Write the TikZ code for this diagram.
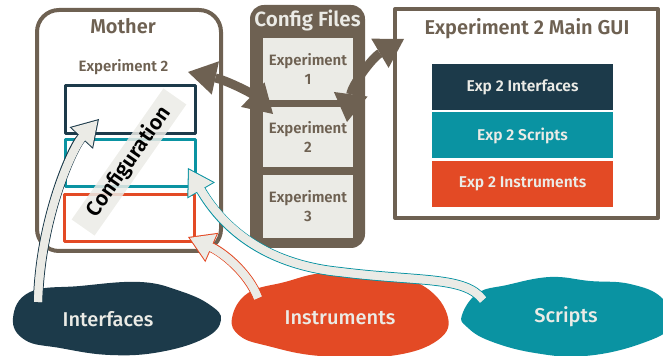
\documentclass[tikz,border=0pt]{standalone}
\usepackage{fontspec}
\setmainfont{Fira Sans}[BoldFont={Fira Sans SemiBold}]
\newfontfamily\medfont{Fira Sans Medium}
\usetikzlibrary{arrows.meta}
\definecolor{brn}{HTML}{6E6152}
\definecolor{ink}{HTML}{1C3A4A}
\definecolor{sea}{HTML}{0A93A2}
\definecolor{rust}{HTML}{E34A25}
\definecolor{paper}{HTML}{EBEBE6}
\tikzset{
  frame/.style={draw=brn, line width=2pt, inner sep=0pt},
  slot/.style={draw=#1, line width=1.5pt, minimum width=65pt, minimum height=23.5pt, inner sep=0pt},
  guirow/.style={fill=#1, text=paper, font=\bfseries\fontsize{7.8}{9}\selectfont, minimum width=90.5pt, minimum height=23pt, inner sep=0pt},
  cfgbox/.style={fill=paper, text=brn, align=center, font=\bfseries\fontsize{7.5}{9.5}\selectfont, minimum width=45pt, inner sep=0pt},
  title/.style={text=brn, font=\bfseries\fontsize{10}{12}\selectfont},
  blobtext/.style={text=paper, font=\medfont\fontsize{10}{12}\selectfont},
  swap arrow/.style={line width=4.5pt, brn, {Triangle[length=14pt,width=17pt,line width=0pt]}-{Triangle[length=14pt,width=17pt,line width=0pt]}},
}
% outlined light arrow: colour, path
\newcommand\fatarrow[2]{%
  \draw[line width=5pt, #1, -{Triangle[length=13pt,width=16pt,line width=0pt]}] #2;
  \draw[line width=4pt, paper, shorten >=1pt, -{Triangle[length=11.5pt,width=14.2pt,line width=0pt]}] #2;
  \draw[line width=4pt, paper, shorten >=11pt] #2;}
\begin{document}
\begin{tikzpicture}[x=0.5pt, y=-0.5pt, line join=round]
  \useasboundingbox (0,0) rectangle (663,356);
  % Mother
  \node[frame, rounded corners=11pt, minimum width=92pt, minimum height=120.5pt] (mother) at (129,130.5) {};
  \node[title] (mtitle) at (123,26) {Mother};
  \node[text=brn, font=\bfseries\fontsize{7.5}{9}\selectfont] (mexp) at (123.5,67) {Experiment 2};
  \node[slot=ink, minimum height=24pt] (mint) at (130.5,109.5) {};
  \node[slot=sea] (mscr) at (130.5,163) {};
  \node[slot=rust] (mins) at (129,218) {};
  % config files
  \node[fill=brn, rounded corners=7pt, minimum width=57.5pt, minimum height=121.5pt, inner sep=0pt] (cfg) at (307.5,126.5) {};
  \node[text=paper, font=\bfseries\fontsize{10.3}{12}\selectfont] (ctitle) at (307.5,21) {Config Files};
  \node[cfgbox, minimum height=31pt] (cfg1) at (308,69) {Experiment\\1};
  \node[cfgbox, minimum height=30pt] (cfg2) at (308,137) {Experiment\\2};
  \node[cfgbox, minimum height=31.5pt] (cfg3) at (308,206.5) {Experiment\\3};
  % main gui
  \node[frame, minimum width=131.5pt, minimum height=104.5pt] (gui) at (526.5,113.5) {};
  \node[title] (gtitle) at (527,29) {Experiment 2 Main GUI};
  \node[guirow=ink] (gint) at (522.5,87.5) {Exp 2 Interfaces};
  \node[guirow=sea] (gscr) at (522.5,135.5) {Exp 2 Scripts};
  \node[guirow=rust] (gins) at (522.5,184) {Exp 2 Instruments};
  % blobs
  \fill[ink] plot[smooth cycle, tension=0.7] coordinates {(13,318) (30,292) (80,286) (140,282) (180,291) (210,305) (221,320) (205,338) (160,352) (110,355) (60,348) (25,340)};
  \fill[rust] plot[smooth cycle, tension=0.7] coordinates {(232,318) (248,293) (285,282) (322,273) (370,272) (420,284) (447,314) (438,340) (390,356) (320,356) (268,346) (240,336)};
  \fill[sea] plot[smooth cycle, tension=0.7] coordinates {(462,315) (478,293) (507,285) (550,277) (590,281) (630,284) (662,298) (672,325) (640,344) (585,356) (535,353) (490,341) (467,327)};
  \node[blobtext] (iface) at (108,319) {Interfaces};
  \node[blobtext] (instr) at (340,318) {Instruments};
  \node[blobtext] (scr) at (566,317) {Scripts};
  % Configuration label
  \node[rotate=55, fill=paper, fill opacity=0.85, text opacity=1, font=\bfseries\fontsize{10.5}{12}\selectfont, minimum width=80pt, minimum height=14pt, inner sep=0pt] (conf) at (129,162) {Configuration};
  % arrow ends
  \coordinate (lnk1a) at (188,72);  \coordinate (lnk1b) at (273,114);
  \coordinate (lnk2a) at (347,122); \coordinate (lnk2b) at (404,39);
  \coordinate (ifs) at (38,302);  \coordinate (ife) at (99,119);
  \coordinate (ins) at (258,298); \coordinate (ine) at (188,237);
  \coordinate (scs) at (483,300); \coordinate (sce) at (188,168);
  \draw[swap arrow] (lnk1a) .. controls (225,80) and (250,92) .. (lnk1b);
  \draw[swap arrow] (lnk2a) .. controls (352,85) and (372,58) .. (lnk2b);
  \fatarrow{ink}{(ifs) .. controls (40,220) and (72,148) .. (ife)}
  \fatarrow{rust}{(ins) .. controls (248,272) and (222,252) .. (ine)}
  \fatarrow{sea}{(scs) .. controls (465,276) and (420,282) .. (340,272) .. controls (280,266) and (230,240) .. (sce)}
\end{tikzpicture}
\end{document}
